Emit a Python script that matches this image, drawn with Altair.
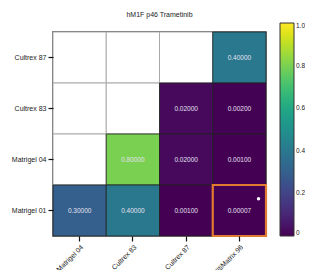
import altair as alt
import pandas as pd

rows = ["Cultrex 87", "Cultrex 83", "Matrigel 04", "Matrigel 01"]
cols = ["Matrigel 04", "Cultrex 83", "Cultrex 87", "UltiMatrix 96"]
values = [
    [None, None, None, 0.4],
    [None, None, 0.02, 0.002],
    [None, 0.8, 0.02, 0.001],
    [0.3, 0.4, 0.001, 0.00007],
]
highlight = ("Matrigel 01", "UltiMatrix 96")
legend_ticks = [0, 0.2, 0.4, 0.6, 0.8, 1.0]

recs = []
for i, r in enumerate(rows):
    for j, c in enumerate(cols):
        recs.append({"row": r, "col": c, "value": values[i][j]})
df = pd.DataFrame(recs)
filled = df.dropna().copy()
filled["label"] = filled["value"].map(lambda v: f"{v:.5f}")
hl = pd.DataFrame([{"row": highlight[0], "col": highlight[1]}])

X = alt.X("col:N", sort=cols, title=None,
          axis=alt.Axis(labelAngle=-45, labelFontSize=7, labelColor="#222",
                        tickColor="#111", tickSize=5, tickWidth=1.2, domain=False,
                        labelFont="Liberation Sans", labelPadding=2))
Y = alt.Y("row:N", sort=rows, title=None,
          axis=alt.Axis(labelFontSize=7, labelColor="#222", tickColor="#111",
                        tickSize=5, tickWidth=1.2, domain=False,
                        labelFont="Liberation Sans", labelPadding=2))

bg = alt.Chart(df).mark_rect(fill="white", stroke="#aaaaaa", strokeWidth=1).encode(x=X, y=Y)

cells = alt.Chart(filled).mark_rect(stroke="#222", strokeWidth=0.8).encode(
    x=X, y=Y,
    color=alt.Color("value:Q", scale=alt.Scale(scheme="viridis", domain=[0, 1]),
                    legend=alt.Legend(title=None, orient="none", legendX=227, legendY=-9,
                                      gradientLength=213, gradientThickness=14,
                                      values=legend_ticks,
                                      labelExpr="datum.value == 0 ? '0' : format(datum.value, '.1f')",
                                      labelFontSize=6.5, labelColor="#222",
                                      labelFont="Liberation Sans", labelOffset=2,
                                      labelLimit=40,
                                      gradientStrokeColor="#333", gradientStrokeWidth=1,
                                      direction="vertical")),
)

texts = alt.Chart(filled).mark_text(fontSize=6.5, color="#e4e0f0",
                                    font="Liberation Sans").encode(
    x=X, y=Y, text="label:N")

hbox = alt.Chart(hl).mark_rect(fill=None, stroke="#e07b30", strokeWidth=2.2).encode(
    x=X, y=Y)

dot = alt.Chart(hl).mark_circle(color="white", size=12, opacity=1).encode(
    x=alt.X("col:N", sort=cols, bandPosition=0.86, title=None),
    y=alt.Y("row:N", sort=rows, bandPosition=0.27, title=None))

chart = alt.layer(bg, cells, texts, hbox, dot).properties(
    width=213, height=204,
    title=alt.TitleParams("hM1F p46 Trametinib", fontSize=7, fontWeight="normal",
                          font="Liberation Sans", color="#222", offset=5),
    autosize=alt.AutoSizeParams(type="none"),
    padding={"left": 45, "top": 24, "right": 39, "bottom": 36},
).configure_view(stroke="#333", strokeWidth=1.5)

chart.save("out.html", embed_options={"renderer": "svg", "actions": False})
